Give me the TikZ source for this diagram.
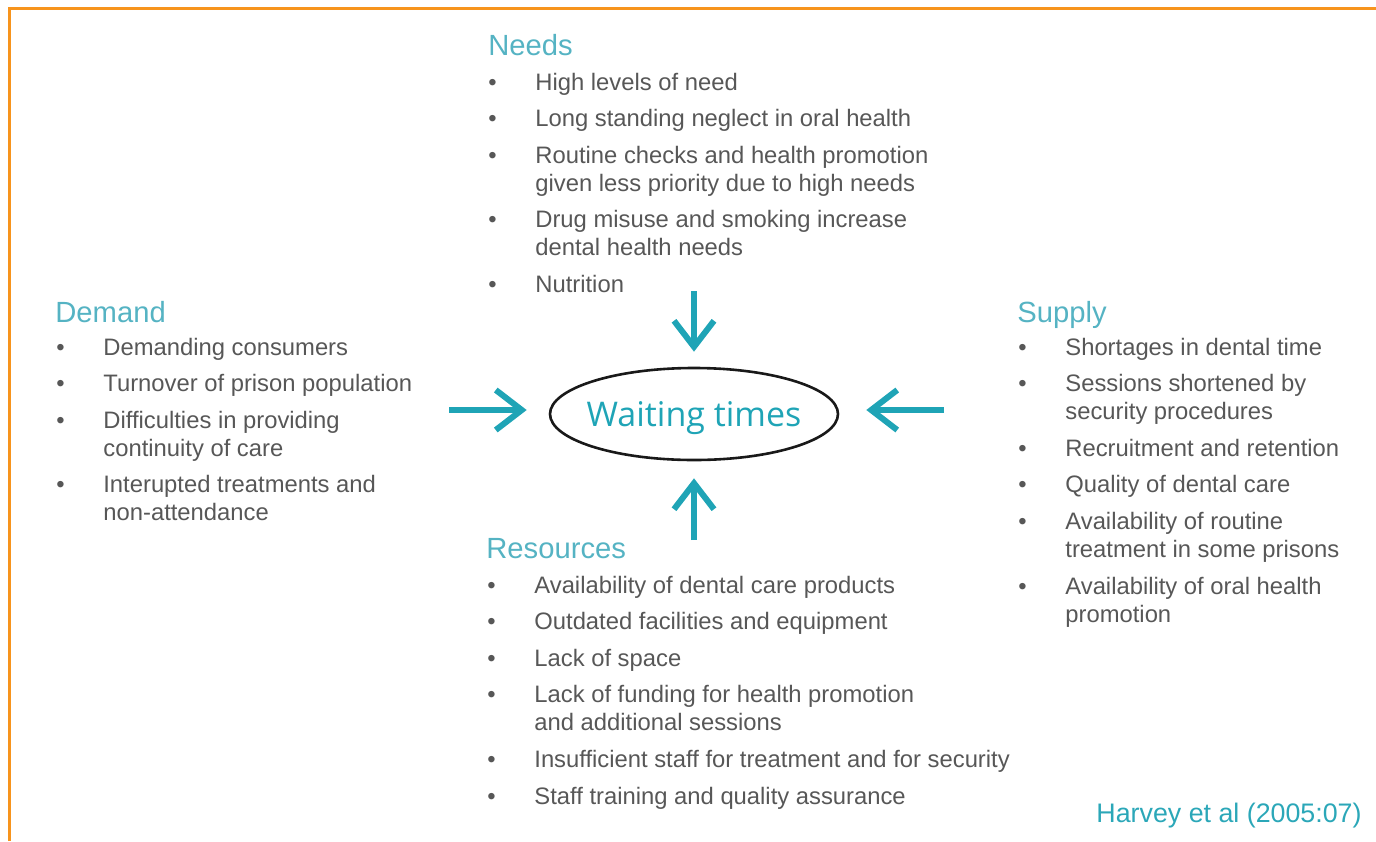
\documentclass[tikz,border=0pt]{standalone}
\usepackage{fontspec}
\setmainfont{Liberation Sans}
\newfontfamily\humfont{Open Sans}
\usetikzlibrary{arrows.meta, shapes.geometric}
\definecolor{frameorange}{HTML}{F7941D}
\definecolor{headteal}{HTML}{55B3C3}
\definecolor{arrowteal}{HTML}{1FA4B6}
\definecolor{citeteal}{HTML}{2BA7B8}
\definecolor{itemgrey}{HTML}{575757}
\tikzstyle{heading}=[anchor=base west, inner sep=0pt, text=headteal, font=\fontsize{14.6}{17}\selectfont]
\tikzstyle{bullets}=[anchor=base west, inner sep=0pt, text=itemgrey, font=\fontsize{11.9}{14}\selectfont]
\tikzstyle{inflow}=[draw=arrowteal, line width=3pt, -{Straight Barb[length=13pt, width=20pt]}]
\newcommand{\blist}[1]{\begin{tabular}[t]{@{}p{23.5pt}@{}l@{}}#1\end{tabular}}
\newcommand{\itm}{\textbullet&}

\begin{document}
\begin{tikzpicture}[x=0.5pt, y=-0.5pt]
    \useasboundingbox (0,0) rectangle (1376,841);
    \draw[frameorange, line width=1.5pt] (9,841) -- (9,8.5) -- (1376,8.5);

    \node[ellipse, draw=black!90, line width=1.3pt, minimum width=144pt, minimum height=46pt,
          inner xsep=-5pt, inner ysep=0pt, text depth=0pt, text=arrowteal,
          font=\humfont\fontsize{17}{20}\selectfont]
        (wait) at (694,414) {Waiting times};

    \node[heading] (needs) at (488,55) {Needs};
    \node[bullets] (needslist) at (488,90) {\blist{
        \itm High levels of need\\[4.3pt]
        \itm Long standing neglect in oral health\\[4.3pt]
        \itm Routine checks and health promotion\\
        & given less priority due to high needs\\[4.3pt]
        \itm Drug misuse and smoking increase\\
        & dental health needs\\[4.3pt]
        \itm Nutrition}};

    \node[heading] (demand) at (55,322) {Demand};
    \node[bullets] (demandlist) at (56,355) {\blist{
        \itm Demanding consumers\\[4.3pt]
        \itm Turnover of prison population\\[4.3pt]
        \itm Difficulties in providing\\
        & continuity of care\\[4.3pt]
        \itm Interupted treatments and\\
        & non-attendance}};

    \node[heading] (supply) at (1017,322) {Supply};
    \node[bullets] (supplylist) at (1018,355) {\blist{
        \itm Shortages in dental time\\[4.3pt]
        \itm Sessions shortened by\\
        & security procedures\\[4.3pt]
        \itm Recruitment and retention\\[4.3pt]
        \itm Quality of dental care\\[4.3pt]
        \itm Availability of routine\\
        & treatment in some prisons\\[4.3pt]
        \itm Availability of oral health\\
        & promotion}};

    \node[heading] (resources) at (486,558) {Resources};
    \node[bullets] (reslist) at (487,593) {\blist{
        \itm Availability of dental care products\\[4.3pt]
        \itm Outdated facilities and equipment\\[4.3pt]
        \itm Lack of space\\[4.3pt]
        \itm Lack of funding for health promotion\\
        & and additional sessions\\[4.3pt]
        \itm Insufficient staff for treatment and for security\\[4.3pt]
        \itm Staff training and quality assurance}};

    \node[anchor=base east, inner sep=0pt, text=citeteal, font=\fontsize{13.4}{16}\selectfont]
        (cite) at (1362,822) {Harvey et al (2005:07)};

    \coordinate (needsarr) at (694,291);
    \coordinate (resarr) at (694,540);
    \coordinate (demarr) at (449,410);
    \coordinate (suparr) at (944,410);

    \draw[inflow, shorten >=7.5pt] (needsarr) -- (needsarr |- wait.north);
    \draw[inflow, shorten >=8.5pt] (resarr) -- (resarr |- wait.south);
    \draw[inflow, shorten >=11pt] (demarr) -- (demarr -| wait.west);
    \draw[inflow, shorten >=13.5pt] (suparr) -- (suparr -| wait.east);
\end{tikzpicture}
\end{document}
